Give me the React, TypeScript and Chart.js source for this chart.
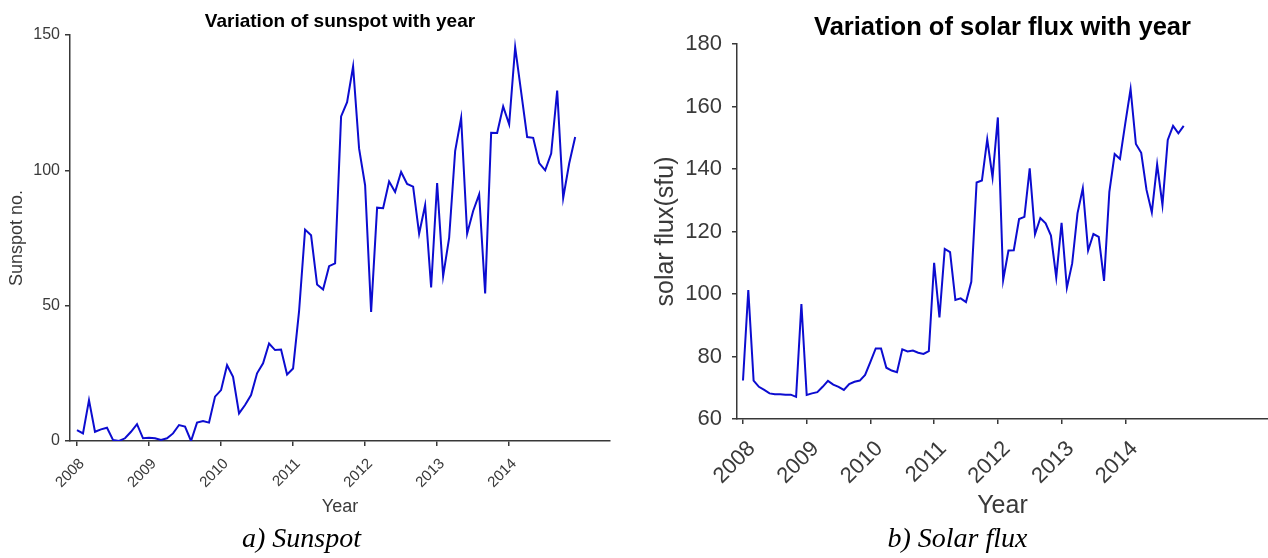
import React, { useEffect, useRef } from 'react';
import { Chart, registerables } from 'chart.js';

Chart.register(...registerables);

const START_YEAR = 2008;
const YEAR_TICKS = [2008, 2009, 2010, 2011, 2012, 2013, 2014];

// Monthly values, Jan 2008 .. Dec 2014
const SUNSPOT = [
  4.0, 2.8, 15.1, 3.4, 4.3, 4.9, 0.4, 0, 1.0, 3.4, 6.2, 1.0,
  1.2, 1.0, 0.4, 1.0, 2.8, 5.9, 5.3, 0, 6.8, 7.4, 6.8, 16.4,
  18.8, 28.0, 23.7, 10.2, 13.3, 17.0, 25.0, 28.7, 36.0, 33.6, 33.8, 24.6,
  26.8, 48, 78.1, 76, 57.8, 56, 64.6, 65.6, 119.9, 125.2, 138.4, 108,
  94.5, 47.7, 86.2, 86, 95.9, 92, 99.4, 95, 94, 76.6, 87.1, 56.7,
  95.3, 60.9, 75, 107.1, 119.4, 76.6, 85, 91.1, 54.5, 113.9, 113.8, 123.6,
  117, 145.5, 128.9, 112.3, 112, 102.7, 100, 106.2, 129.5, 89.8, 102.5, 112.3,
];

const SOLAR_FLUX = [
  72.3, 101.3, 72.3, 70.3, 69.3, 68.2, 67.9, 67.9, 67.8, 67.8, 67.1, 96.8,
  67.7, 68.2, 68.6, 70.3, 72.2, 71, 70.3, 69.3, 71.2, 71.9, 72.3, 74.1,
  78.3, 82.6, 82.6, 76.4, 75.5, 75, 82.3, 81.6, 81.9, 81.2, 80.8, 81.7,
  110, 92.5, 114.4, 113.4, 98.1, 98.6, 97.4, 103.9, 135.7, 136.3, 149.5, 137.3,
  156.5, 104.5, 113.9, 114, 124, 124.7, 140.2, 119.1, 124.3, 122.6, 118.7, 105.3,
  122.8, 102, 109.8, 125.8, 133.8, 113.9, 119.2, 118.3, 104.2, 132.7, 144.8, 143.2,
  154.6, 165.6, 148, 145.2, 133.3, 126.1, 141.5, 128.5, 149.3, 153.8, 151.4, 153.8,
];

const SUNSPOT_Y_TICKS = [0, 50, 100, 150];
const FLUX_Y_TICKS = [60, 80, 100, 120, 140, 160, 180];

const LINE_COLOR = '#0c0cd0';
const AXIS_COLOR = '#383838';
const TEXT_COLOR = '#3a3a3a';
const FONT = '"Liberation Sans", Arial, Helvetica, sans-serif';

type Spec = {
  values: number[];
  title: string;
  yTitle: string;
  yTicks: number[];
  yMin: number;
  yMax: number;
  xMin: number;
  xMax: number;
  width: number;
  height: number;
  yAxisWidth: number;
  xAxisHeight: number;
  padRight: number;
  titleSize: number;
  titlePad: { top: number; bottom: number };
  tickSize: number;
  xTickSize: number;
  axisTitleSize: number;
  yTitlePad: number;
  xTitlePad: number;
  yTickPad: number;
  xTickPad: number;
  xLabelOffset: number;
};

function makeConfig(p: Spec): any {
  return {
    type: 'line',
    data: {
      datasets: [
        {
          data: p.values.map((v, i) => ({ x: START_YEAR + i / 12, y: v })),
          borderColor: LINE_COLOR,
          borderWidth: 2,
          pointRadius: 0,
          tension: 0,
          fill: false,
        },
      ],
    },
    options: {
      responsive: false,
      animation: false,
      layout: { padding: { left: 0, right: p.padRight, top: 0, bottom: 0 } },
      plugins: {
        legend: { display: false },
        tooltip: { enabled: false },
        title: {
          display: true,
          text: p.title,
          fullSize: false,
          color: '#000',
          font: { family: FONT, size: p.titleSize, weight: 'bold', lineHeight: 1.2 },
          padding: p.titlePad,
        },
      },
      scales: {
        x: {
          type: 'linear',
          min: p.xMin,
          max: p.xMax,
          afterBuildTicks: (s: any) => {
            s.ticks = YEAR_TICKS.map((v) => ({ value: v }));
          },
          afterFit: (s: any) => {
            s.height = p.xAxisHeight;
          },
          ticks: {
            autoSkip: false,
            minRotation: 45,
            maxRotation: 45,
            color: TEXT_COLOR,
            padding: p.xTickPad,
            labelOffset: p.xLabelOffset,
            font: { family: FONT, size: p.xTickSize },
            callback: (v: any) => String(v),
          },
          grid: { drawOnChartArea: false, drawTicks: true, tickLength: 5, color: AXIS_COLOR, lineWidth: 1.5 },
          border: { display: true, color: AXIS_COLOR, width: 1.5 },
          title: {
            display: true,
            text: 'Year',
            color: TEXT_COLOR,
            font: { family: FONT, size: p.axisTitleSize, lineHeight: 1.2 },
            padding: { top: 0, bottom: p.xTitlePad },
          },
        },
        y: {
          type: 'linear',
          min: p.yMin,
          max: p.yMax,
          afterBuildTicks: (s: any) => {
            s.ticks = p.yTicks.map((v) => ({ value: v }));
          },
          afterFit: (s: any) => {
            s.width = p.yAxisWidth;
          },
          ticks: {
            color: TEXT_COLOR,
            padding: p.yTickPad,
            font: { family: FONT, size: p.tickSize },
            callback: (v: any) => String(v),
          },
          grid: { drawOnChartArea: false, drawTicks: true, tickLength: 5, color: AXIS_COLOR, lineWidth: 1.5 },
          border: { display: true, color: AXIS_COLOR, width: 1.5 },
          title: {
            display: true,
            text: p.yTitle,
            color: TEXT_COLOR,
            font: { family: FONT, size: p.axisTitleSize, lineHeight: 1.2 },
            padding: { top: p.yTitlePad, bottom: 0 },
          },
        },
      },
    },
  };
}

function LineChart({ spec, left }: { spec: Spec; left: number }) {
  const ref = useRef<HTMLCanvasElement | null>(null);
  useEffect(() => {
    if (!ref.current) return;
    const chart = new Chart(ref.current, makeConfig(spec));
    return () => chart.destroy();
  }, [spec]);
  return (
    <canvas
      ref={ref}
      width={spec.width}
      height={spec.height}
      style={{ position: 'absolute', left, top: 0, width: spec.width, height: spec.height }}
    />
  );
}

const LEFT_SPEC: Spec = {
  values: SUNSPOT,
  title: 'Variation of sunspot with year',
  yTitle: 'Sunspot no.',
  yTicks: SUNSPOT_Y_TICKS,
  yMin: 0,
  yMax: 150,
  xMin: 2007.903,
  xMax: 2015.4,
  width: 640,
  height: 525,
  yAxisWidth: 70,
  xAxisHeight: 84,
  padRight: 30,
  titleSize: 19,
  titlePad: { top: 10.5, bottom: 1.7 },
  tickSize: 16,
  xTickSize: 15,
  axisTitleSize: 18,
  yTitlePad: 6,
  xTitlePad: 7,
  yTickPad: 5,
  xTickPad: 9,
  xLabelOffset: 5,
};

const RIGHT_SPEC: Spec = {
  values: SOLAR_FLUX,
  title: 'Variation of solar flux with year',
  yTitle: 'solar flux(sfu)',
  yTicks: FLUX_Y_TICKS,
  yMin: 60,
  yMax: 180,
  xMin: 2007.906,
  xMax: 2016.24,
  width: 628,
  height: 525,
  yAxisWidth: 97,
  xAxisHeight: 106,
  padRight: 0,
  titleSize: 25.5,
  titlePad: { top: 12.5, bottom: 0.9 },
  tickSize: 22,
  xTickSize: 22,
  axisTitleSize: 25,
  yTitlePad: 11,
  xTitlePad: 4,
  yTickPad: 10,
  xTickPad: 12,
  xLabelOffset: 9,
};

const captionStyle: React.CSSProperties = {
  position: 'absolute',
  top: 524,
  width: 300,
  textAlign: 'center',
  fontFamily: '"Liberation Serif", "Times New Roman", serif',
  fontStyle: 'italic',
  fontSize: 28,
  lineHeight: '28px',
  color: '#000',
  whiteSpace: 'nowrap',
};

export default function App() {
  return (
    <div
      style={{
        position: 'fixed',
        left: 0,
        top: 0,
        width: 1268,
        height: 558,
        background: '#fff',
        overflow: 'hidden',
      }}
    >
      <LineChart spec={LEFT_SPEC} left={0} />
      <LineChart spec={RIGHT_SPEC} left={640} />
      <div style={{ ...captionStyle, left: 301.5 - 150 }}>a) Sunspot</div>
      <div style={{ ...captionStyle, left: 957.5 - 150 }}>b) Solar flux</div>
    </div>
  );
}
